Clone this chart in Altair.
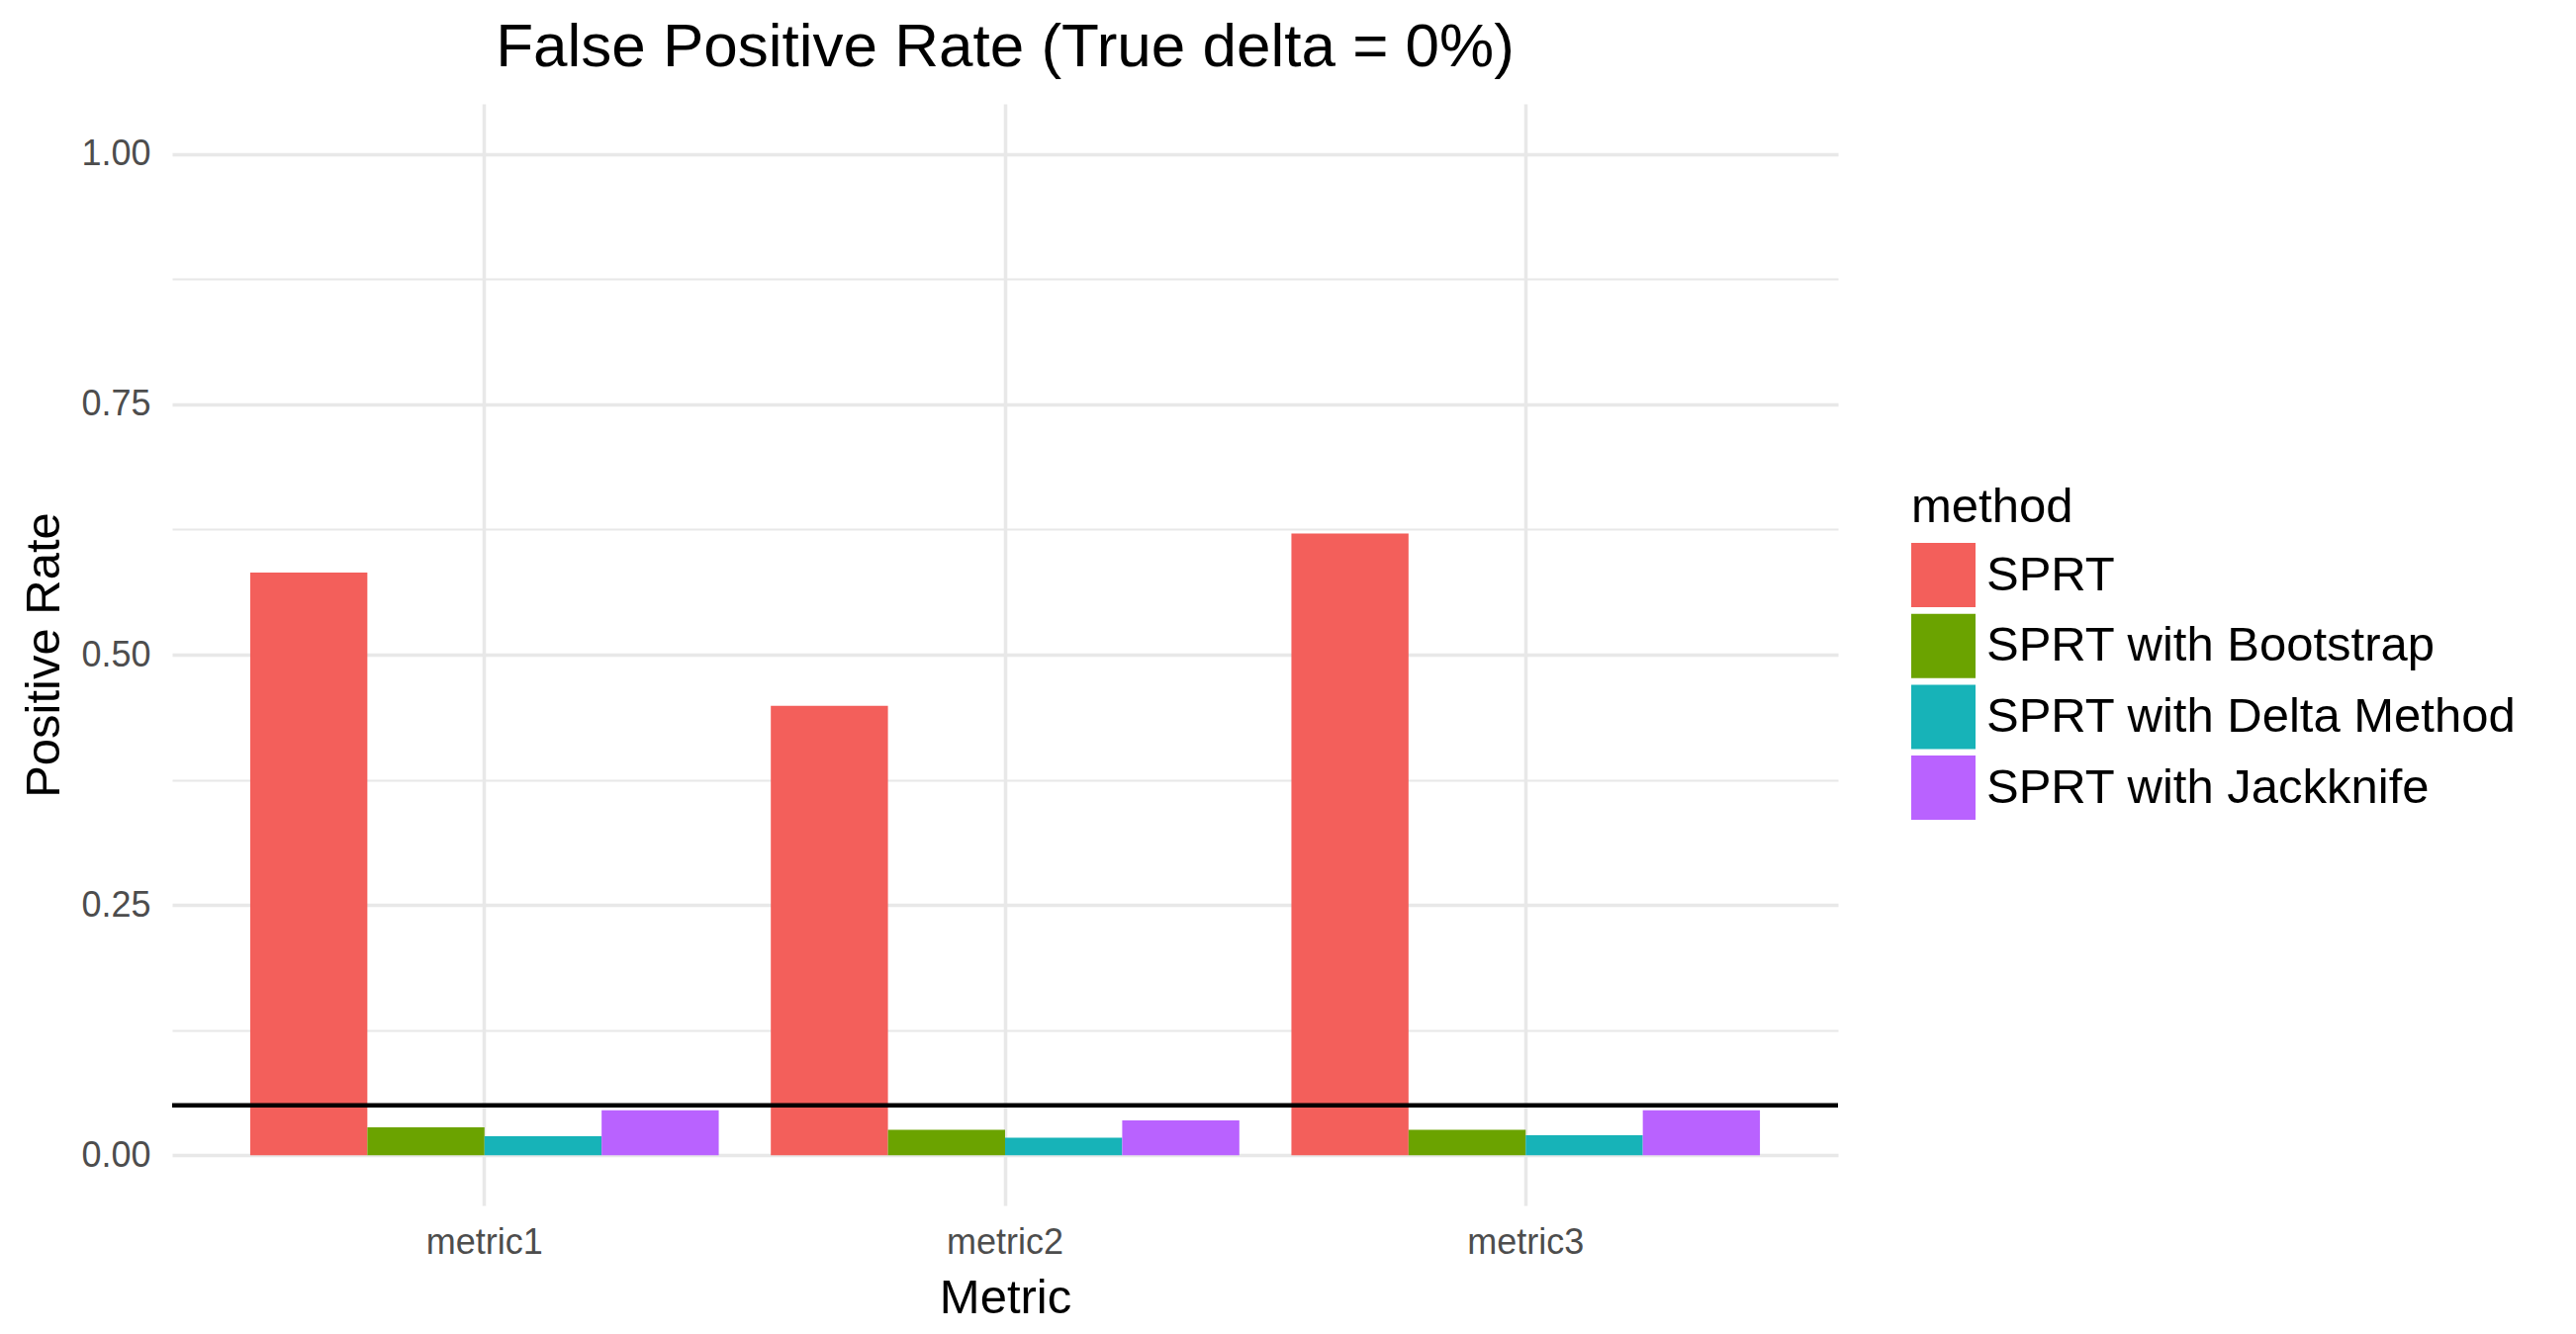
import altair as alt
import pandas as pd

metrics = ["metric1", "metric2", "metric3"]
methods = ["SPRT", "SPRT with Bootstrap", "SPRT with Delta Method", "SPRT with Jackknife"]
sprt = [0.582, 0.449, 0.621]
bootstrap = [0.028, 0.0255, 0.0255]
delta_method = [0.019, 0.0176, 0.0202]
jackknife = [0.045, 0.035, 0.045]
colors = ["#F35F5B", "#6BA300", "#17B3B8", "#B962FF"]
threshold = [0.05]
y_ticks = [0.0, 0.125, 0.25, 0.375, 0.5, 0.625, 0.75, 0.875, 1.0]

series = {
    "SPRT": sprt,
    "SPRT with Bootstrap": bootstrap,
    "SPRT with Delta Method": delta_method,
    "SPRT with Jackknife": jackknife,
}
rows = []
for m_i, metric in enumerate(metrics):
    for method in methods:
        rows.append({"metric": metric, "method": method, "value": series[method][m_i]})
df = pd.DataFrame(rows)

FONT = "Liberation Sans"
GRID = "#E8E8E8"

bars = alt.Chart(df).mark_bar().encode(
    x=alt.X(
        "metric:N",
        sort=metrics,
        scale=alt.Scale(paddingInner=0.1, paddingOuter=0.15),
        axis=alt.Axis(
            title="Metric",
            grid=True,
            bandPosition=0.5,
            gridColor=GRID,
            gridWidth=3.5,
            ticks=False,
            tickSize=0,
            domain=False,
            labelAngle=0,
            labelFont=FONT,
            labelFontSize=36,
            labelColor="#4D4D4D",
            labelBaseline="alphabetic",
            labelPadding=48,
            titleFont=FONT,
            titleFontSize=49,
            titleFontWeight="normal",
            titleColor="black",
            titleBaseline="alphabetic",
            titleX=842,
            titleY=108,
        ),
    ),
    xOffset=alt.XOffset("method:N", sort=methods, scale=alt.Scale(paddingInner=0, paddingOuter=0)),
    y=alt.Y(
        "value:Q",
        scale=alt.Scale(domain=[-0.05, 1.05], nice=False, zero=False),
        axis=alt.Axis(
            title="Positive Rate",
            values=y_ticks,
            labelExpr="datum.value % 0.25 == 0 ? format(datum.value, '.2f') : ''",
            grid=True,
            gridColor=GRID,
            gridWidth={"condition": {"test": "datum.value % 0.25 == 0", "value": 3.5}, "value": 2.2},
            ticks=False,
            tickSize=0,
            domain=False,
            labelFont=FONT,
            labelFontSize=36,
            labelColor="#4D4D4D",
            labelPadding=22,
            titleFont=FONT,
            titleFontSize=49,
            titleFontWeight="normal",
            titleColor="black",
            titleBaseline="alphabetic",
            titleAngle=270,
            titleX=-115,
            titleY=557,
        ),
    ),
    y2=alt.datum(0),
    color=alt.Color(
        "method:N",
        sort=methods,
        scale=alt.Scale(domain=methods, range=colors),
        legend=alt.Legend(
            title="method",
            orient="none",
            legendX=1758,
            legendY=384,
            direction="vertical",
            padding=0,
            titleFont=FONT,
            titleFontSize=49,
            titleFontWeight="normal",
            titleColor="black",
            titlePadding=11,
            labelFont=FONT,
            labelFontSize=49,
            labelColor="black",
            labelLimit=1000,
            labelOffset=11,
            symbolType="square",
            symbolSize=4225,
            symbolStrokeWidth=0,
            symbolOpacity=1,
            rowPadding=6.7,
        ),
    ),
)

rule = alt.Chart(pd.DataFrame({"t": threshold})).mark_rule(color="black", strokeWidth=4.5).encode(
    y="t:Q"
)

chart = alt.layer(bars, rule).properties(
    width=1684,
    height=1114,
    padding={"left": 166, "top": 97, "right": 700, "bottom": 120},
    autosize=alt.AutoSizeParams(type="none"),
    title=alt.TitleParams(
        text="False Positive Rate (True delta = 0%)",
        font=FONT,
        fontSize=62,
        fontWeight="normal",
        color="black",
        anchor="middle",
        frame="group",
        offset=25,
    ),
).configure(font=FONT, background="white").configure_view(stroke=None)

chart.save("out.html", embed_options={"renderer": "svg", "actions": False})
